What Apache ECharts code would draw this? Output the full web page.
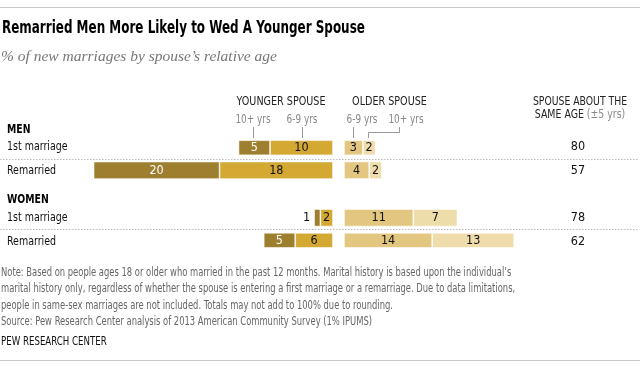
<!DOCTYPE html>
<html><head><meta charset="utf-8">
<script src="https://cdn.jsdelivr.net/npm/echarts@6/dist/echarts.min.js"></script>
<style>html,body{margin:0;padding:0;background:#fff}#c{width:640px;height:369px}</style>
</head><body><div id="c"></div>
<script>
// ---- data ----
const rowLabels = ['1st marriage', 'Remarried', '1st marriage', 'Remarried'];
const groupLabels = ['MEN', 'WOMEN'];
const younger10 = [5, 20, 1, 5];
const younger69 = [10, 18, 2, 6];
const older69 = [3, 4, 11, 14];
const older10 = [2, 2, 7, 13];
const sameAge = [80, 57, 78, 62];
const headers = ['YOUNGER SPOUSE', 'OLDER SPOUSE'];
const bandLabels = ['10+ yrs', '6-9 yrs'];

// ---- layout ----
const rowSlots = [0, 2, 6, 8];
const nSlots = 9;
const FONT = '"Liberation Sans Narrow", "DejaVu Sans Condensed", "Roboto", sans-serif';
const C = { y10: '#9e7f2f', y69: '#d3a934', o69: '#e3c781', o10: '#eedcab' };

function slotted(arr) {
  const out = new Array(nSlots).fill('-');
  rowSlots.forEach((s, i) => { out[s] = arr[i]; });
  return out;
}
const slotCats = Array.from({length: nSlots}, (_, i) => 's' + i);
const sameOf = {}; rowSlots.forEach((s, i) => sameOf['s' + s] = sameAge[i]);

const gridTop = 140.6, gridH = 106.9;
const chart = echarts.init(document.getElementById('c'), null, {renderer: 'canvas'});

const barBase = {
  type: 'bar', barWidth: 17.5,
  itemStyle: { borderColor: 'rgba(255,255,255,0.7)', borderWidth: 0.8 },
  label: { show: true, position: 'inside', fontFamily: FONT, fontSize: 12.5, color: '#111' },
  silent: true, animation: false
};

function yAx(gi, extra) {
  return Object.assign({
    type: 'category', gridIndex: gi, data: slotCats, inverse: true,
    axisLine: {show: false}, axisTick: {show: false}, splitLine: {show: false},
    axisLabel: {show: false}
  }, extra || {});
}

const younger10Data = slotted(younger10).map((v) => {
  if (v === '-') return v;
  if (v < 3) return { value: v, label: { position: 'left', distance: 4, color: '#111' } };
  return v;
});

function txt(x, y, text, font, fill, align, sx) {
  return { type: 'text', x: x, y: y, scaleX: sx || 1,
    style: { text: text, font: font, fill: fill, textAlign: align || 'left', textVerticalAlign: 'middle' } };
}

const graphics = [
  { type: 'line', shape: {x1: 0, y1: 7.5, x2: 640, y2: 7.5}, style: {stroke: '#c8c8c8', lineWidth: 1} },
  txt(2, 28, 'Remarried Men More Likely to Wed A Younger Spouse', 'bold 17.5px ' + FONT, '#000', 'left', 0.76),
  txt(1, 57, '% of new marriages by spouse\u2019s relative age', 'italic 15.5px "Liberation Serif", "DejaVu Serif", serif', '#777'),
  txt(281, 102, headers[0], '12px ' + FONT, '#222', 'center', 0.89),
  txt(389.5, 102, headers[1], '12px ' + FONT, '#222', 'center', 0.89),
  txt(580, 102, 'SPOUSE ABOUT THE', '12px ' + FONT, '#222', 'center', 0.86),
  { type: 'text', x: 580, y: 115, scaleX: 0.87, style: { text: '{a|SAME AGE} {b|(\u00b15 yrs)}', textAlign: 'center', textVerticalAlign: 'middle',
      rich: { a: { fontFamily: FONT, fontSize: 12, fill: '#222' }, b: { fontFamily: FONT, fontSize: 12, fill: '#888' } } } },
  txt(253, 120, bandLabels[0], '12.5px ' + FONT, '#888', 'center', 0.79),
  txt(302, 120, bandLabels[1], '12.5px ' + FONT, '#888', 'center', 0.79),
  txt(362, 120, bandLabels[1], '12.5px ' + FONT, '#888', 'center', 0.79),
  txt(406, 120, bandLabels[0], '12.5px ' + FONT, '#888', 'center', 0.79),
  { type: 'line', shape: {x1: 253.5, y1: 127, x2: 253.5, y2: 138}, style: {stroke: '#999', lineWidth: 1} },
  { type: 'line', shape: {x1: 302.5, y1: 127, x2: 302.5, y2: 138}, style: {stroke: '#999', lineWidth: 1} },
  { type: 'line', shape: {x1: 353.5, y1: 127, x2: 353.5, y2: 138}, style: {stroke: '#999', lineWidth: 1} },
  { type: 'polyline', shape: {points: [[368.5, 138], [368.5, 132.5], [399.5, 132.5], [399.5, 127]]}, style: {stroke: '#999', lineWidth: 1, fill: null} },
  txt(7, 130, groupLabels[0], 'bold 12.5px ' + FONT, '#000', 'left', 0.83),
  txt(7, 200, groupLabels[1], 'bold 12.5px ' + FONT, '#000', 'left', 0.83),
  { type: 'line', shape: {x1: 0, y1: 159.5, x2: 638, y2: 159.5}, style: {stroke: '#bbb', lineWidth: 1, lineDash: [1.5, 1.5]} },
  { type: 'line', shape: {x1: 0, y1: 229.5, x2: 638, y2: 229.5}, style: {stroke: '#bbb', lineWidth: 1, lineDash: [1.5, 1.5]} },
  txt(1, 273, 'Note: Based on people ages 18 or older who married in the past 12 months. Marital history is based upon the individual\u2019s', '12px ' + FONT, '#666', 'left', 0.776),
  txt(1, 289, 'marital history only, regardless of whether the spouse is entering a first marriage or a remarriage. Due to data limitations,', '12px ' + FONT, '#666', 'left', 0.776),
  txt(1, 306, 'people in same-sex marriages are not included. Totals may not add to 100% due to rounding.', '12px ' + FONT, '#666', 'left', 0.776),
  txt(1, 322, 'Source: Pew Research Center analysis of 2013 American Community Survey (1% IPUMS)', '12px ' + FONT, '#666', 'left', 0.776),
  txt(1, 342, 'PEW RESEARCH CENTER', '12px ' + FONT, '#111', 'left', 0.8),
  { type: 'line', shape: {x1: 0, y1: 360.5, x2: 640, y2: 360.5}, style: {stroke: '#c8c8c8', lineWidth: 1} }
];

chart.setOption({
  animation: false,
  textStyle: { fontFamily: FONT },
  grid: [
    { left: 81, width: 252, top: gridTop, height: gridH },
    { left: 344, width: 252, top: gridTop, height: gridH },
    { left: 578, width: 1, top: gridTop, height: gridH }
  ],
  xAxis: [
    { type: 'value', gridIndex: 0, min: 0, max: 40, inverse: true, show: false },
    { type: 'value', gridIndex: 1, min: 0, max: 40, show: false },
    { type: 'value', gridIndex: 2, min: 0, max: 1, show: false }
  ],
  yAxis: [
    yAx(0),
    yAx(1),
    yAx(2, { position: 'left', axisLine: {show: false, onZero: false},
      axisLabel: { show: true, align: 'center', margin: 0, fontFamily: FONT, fontSize: 12.5, color: '#111',
        formatter: v => (sameOf[v] !== undefined ? String(sameOf[v]) : '') } })
  ],
  series: [
    Object.assign({}, barBase, { name: 'y69', xAxisIndex: 0, yAxisIndex: 0, stack: 'y', data: slotted(younger69), itemStyle: Object.assign({}, barBase.itemStyle, {color: C.y69}) }),
    Object.assign({}, barBase, { name: 'y10', xAxisIndex: 0, yAxisIndex: 0, stack: 'y', data: younger10Data, itemStyle: Object.assign({}, barBase.itemStyle, {color: C.y10}), label: Object.assign({}, barBase.label, {color: '#fff'}) }),
    Object.assign({}, barBase, { name: 'o69', xAxisIndex: 1, yAxisIndex: 1, stack: 'o', data: slotted(older69), itemStyle: Object.assign({}, barBase.itemStyle, {color: C.o69}) }),
    Object.assign({}, barBase, { name: 'o10', xAxisIndex: 1, yAxisIndex: 1, stack: 'o', data: slotted(older10), itemStyle: Object.assign({}, barBase.itemStyle, {color: C.o10}) })
  ],
  graphic: graphics
});

// row labels placed on the category axis positions
const rowGraphics = rowSlots.map((s, i) => {
  const y = chart.convertToPixel({yAxisIndex: 0}, 's' + s);
  return txt(7, y, rowLabels[i], '13px ' + FONT, '#111', 'left', 0.81);
});
chart.setOption({ graphic: graphics.concat(rowGraphics) });
</script></body></html>
